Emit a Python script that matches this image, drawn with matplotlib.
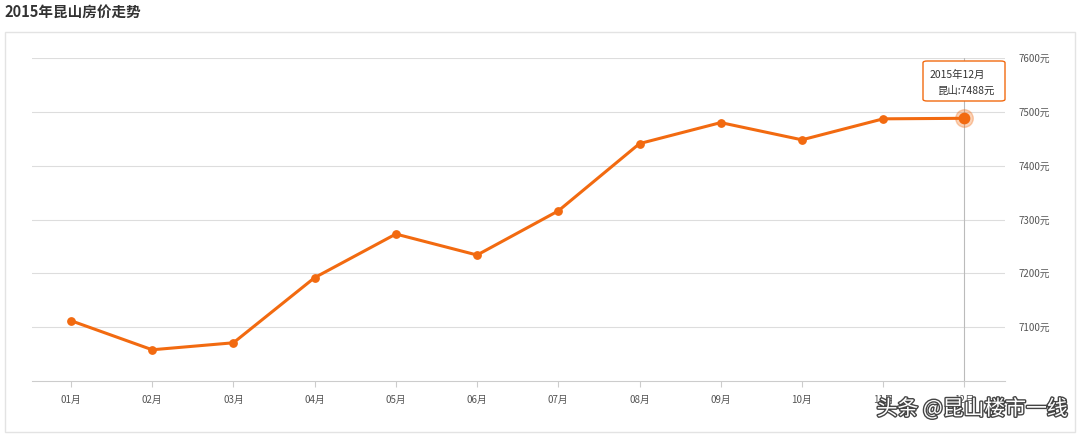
import matplotlib.pyplot as plt
import matplotlib.patheffects as pe
from matplotlib.patches import FancyBboxPatch, Rectangle

plt.rcParams['font.family'] = ['Noto Sans CJK SC', 'DejaVu Sans']

months = ["01月", "02月", "03月", "04月", "05月", "06月",
          "07月", "08月", "09月", "10月", "11月", "12月"]
prices = [7112, 7058, 7071, 7192, 7273, 7234, 7316, 7441, 7480, 7448, 7487, 7488]
yticks = [7100, 7200, 7300, 7400, 7500, 7600]

W, H = 1080, 437
fig = plt.figure(figsize=(W / 100, H / 100), dpi=100, facecolor="white")

# outer frame
fig.patches.append(Rectangle((5 / W, 1 - 432 / H), 1070 / W, 400 / H,
                             transform=fig.transFigure, fill=False,
                             edgecolor="#e3e3e3", linewidth=1))
fig.text(4 / W, 1 - 12 / H, "2015年昆山房价走势", fontsize=10.5,
         fontweight="bold", color="#333333", va="center", ha="left")

ax = fig.add_axes([32 / W, 1 - 381 / H, 973 / W, (381 - 58) / H * 1.0])
x = list(range(len(months)))
ax.set_xlim(-0.48, 11.5)
ax.set_ylim(7000, 7600)

for y in yticks:
    ax.axhline(y, color="#dddddd", linewidth=0.8, zorder=0)
ax.axvline(11, color="#bbbbbb", linewidth=0.8, zorder=1)

color = "#f26a10"
ax.plot(x, prices, color=color, linewidth=2.2, zorder=3)
ax.scatter(x, prices, s=28, color=color, zorder=4)
ax.scatter([11], [prices[-1]], s=160, color=color, alpha=0.3, zorder=4)
ax.scatter([11], [prices[-1]], s=55, color=color, zorder=5)

ax.set_xticks(x)
ax.set_xticklabels(months, fontsize=7, color="#555555")
ax.yaxis.tick_right()
ax.set_yticks(yticks)
ax.set_yticklabels([f"{v}元" for v in yticks], fontsize=7, color="#555555")
ax.tick_params(axis="y", length=0, pad=10)
ax.tick_params(axis="x", length=4, color="#cccccc", pad=6)
for s in ["top", "right", "left"]:
    ax.spines[s].set_visible(False)
ax.spines["bottom"].set_color("#cccccc")

# tooltip
tb = FancyBboxPatch((923 / W, 1 - 101 / H), 82 / W, 40 / H,
                    boxstyle="round,pad=0,rounding_size=0.004",
                    transform=fig.transFigure, facecolor="white",
                    edgecolor=color, linewidth=1, zorder=10)
fig.patches.append(tb)
fig.text(930 / W, 1 - 75 / H, "2015年12月", fontsize=7.5, color="#333333",
         va="center", zorder=11)
fig.text(938 / W, 1 - 91 / H, "昆山:7488元", fontsize=7.5, color="#333333",
         va="center", zorder=11)

fig.text(1068 / W, 1 - 409 / H, "头条 @昆山楼市一线", fontsize=15, color="white",
         ha="right", va="center",
         path_effects=[pe.withStroke(linewidth=2, foreground="#444444")])

fig.savefig("out.png", dpi=100, facecolor="white")
